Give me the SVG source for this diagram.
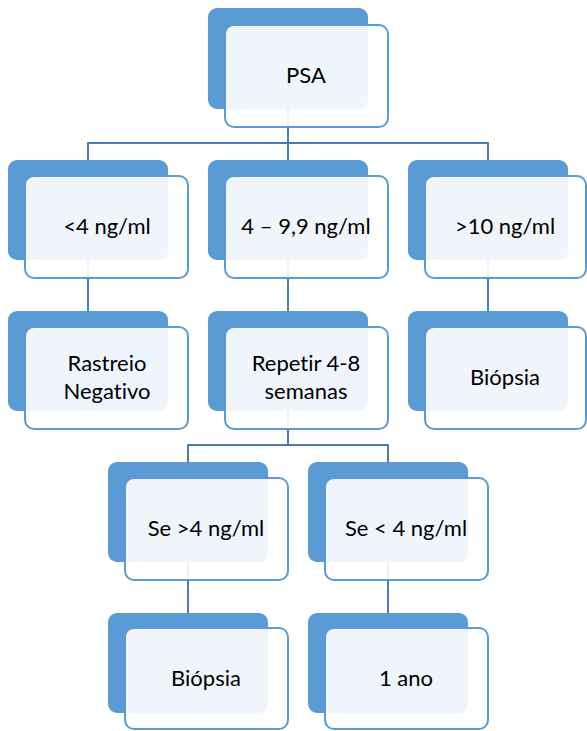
<svg xmlns="http://www.w3.org/2000/svg" width="587" height="731" viewBox="0 0 587 731">
<style>
.back{fill:#5B9BD5}
.front{fill:#ffffff;fill-opacity:0.9;stroke:#5B9BD5;stroke-width:2}
.conn{stroke:#4A7DB4;stroke-width:2;fill:none}
text{font-family:Lato,"Liberation Sans",sans-serif;font-size:22px;fill:#000;text-anchor:middle;font-variant-ligatures:none}
</style>
<rect width="587" height="731" fill="#fff"/>
<g id="connectors">
<path class="conn" d="M288 109V143M88 160V143H488V160M288 143V160"/>
<path class="conn" d="M88 260V311M288 260V311M488 260V311"/>
<path class="conn" d="M288 410V445M188 462V445H388V462"/>
<path class="conn" d="M188 561V613M388 561V613"/>
</g>
<g id="psa"><rect class="back" x="208" y="8" width="160" height="101" rx="9"/><rect class="front" x="225" y="25" width="163" height="102" rx="9"/><text x="306" y="83">PSA</text></g>
<g id="lt4"><rect class="back" x="8" y="160" width="160" height="100" rx="9"/><rect class="front" x="25" y="176" width="163" height="102" rx="9"/><text x="107" y="234">&lt;4 ng/ml</text></g>
<g id="mid"><rect class="back" x="208" y="160" width="160" height="100" rx="9"/><rect class="front" x="225" y="176" width="163" height="102" rx="9"/><text x="306" y="234">4 – 9,9 ng/ml</text></g>
<g id="gt10"><rect class="back" x="408" y="160" width="160" height="100" rx="9"/><rect class="front" x="425" y="176" width="161" height="102" rx="9"/><text x="505" y="234">&gt;10 ng/ml</text></g>
<g id="rastreio"><rect class="back" x="8" y="311" width="160" height="100" rx="9"/><rect class="front" x="25" y="327" width="163" height="102" rx="9"/><text x="107" y="371">Rastreio</text><text x="107" y="399">Negativo</text></g>
<g id="repetir"><rect class="back" x="208" y="311" width="160" height="100" rx="9"/><rect class="front" x="225" y="327" width="163" height="102" rx="9"/><text x="306" y="371">Repetir 4-8</text><text x="306" y="399">semanas</text></g>
<g id="biopsia1"><rect class="back" x="408" y="311" width="160" height="100" rx="9"/><rect class="front" x="425" y="327" width="161" height="102" rx="9"/><text x="505" y="385">Biópsia</text></g>
<g id="segt4"><rect class="back" x="108" y="462" width="160" height="100" rx="9"/><rect class="front" x="125" y="478" width="163" height="102" rx="9"/><text x="206" y="536">Se &gt;4 ng/ml</text></g>
<g id="selt4"><rect class="back" x="308" y="462" width="160" height="100" rx="9"/><rect class="front" x="325" y="478" width="163" height="102" rx="9"/><text x="406" y="536">Se &lt; 4 ng/ml</text></g>
<g id="biopsia2"><rect class="back" x="108" y="613" width="160" height="100" rx="9"/><rect class="front" x="125" y="628" width="163" height="101" rx="9"/><text x="206" y="686">Biópsia</text></g>
<g id="ano"><rect class="back" x="308" y="613" width="160" height="100" rx="9"/><rect class="front" x="325" y="628" width="163" height="101" rx="9"/><text x="406" y="686">1 ano</text></g>
</svg>
